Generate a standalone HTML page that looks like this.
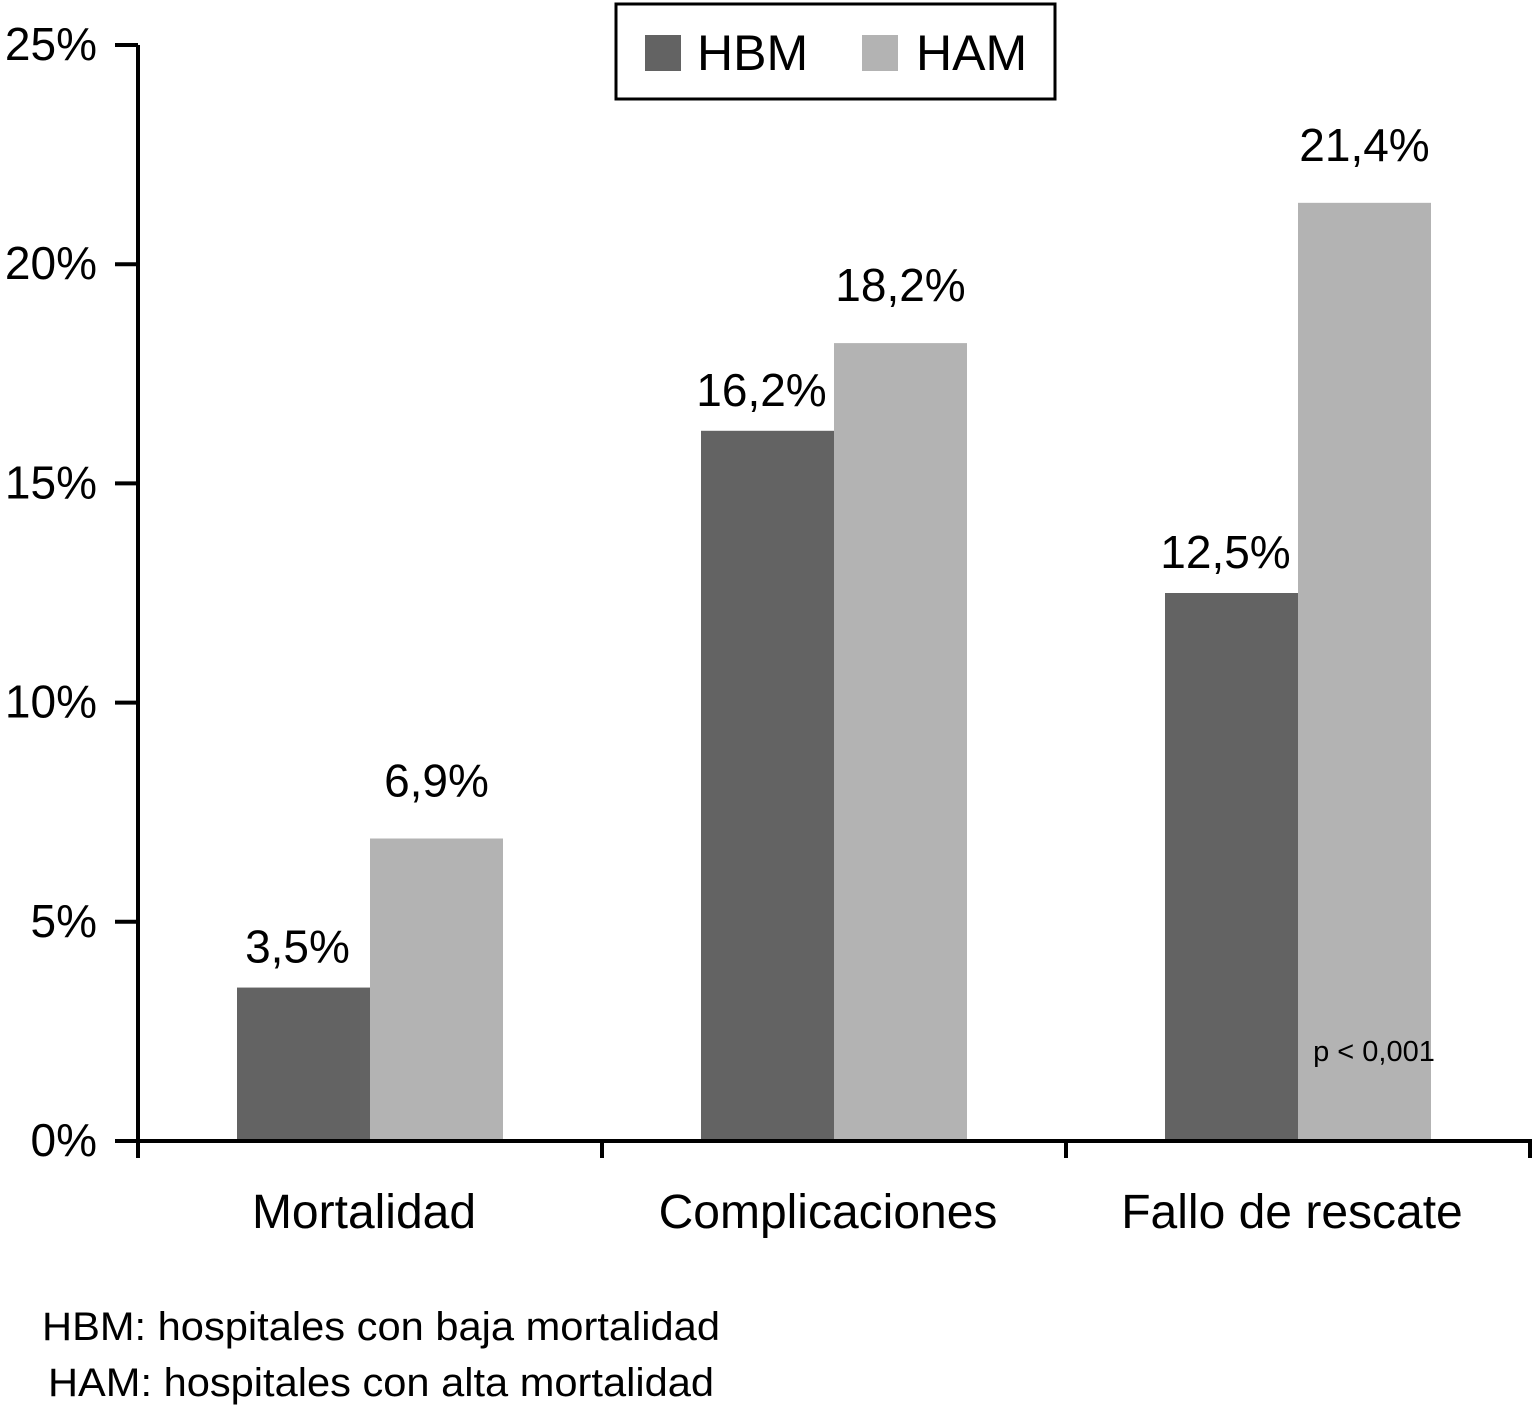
<!DOCTYPE html>
<html><head><meta charset="utf-8"><style>
body{margin:0;background:#fff;}
svg text{font-family:"Liberation Sans",Arial,sans-serif;fill:#000;}
</style></head><body>
<svg id="chart" width="1535" height="1417" viewBox="0 0 1535 1417"></svg>
<script>
const categories=["Mortalidad","Complicaciones","Fallo de rescate"];
const hbmValues=[3.5,16.2,12.5];
const hamValues=[6.9,18.2,21.4];
const valueLabelsHBM=["3,5%","16,2%","12,5%"];
const valueLabelsHAM=["6,9%","18,2%","21,4%"];
const yTicks=[0,5,10,15,20,25];
const yTickLabels=["0%","5%","10%","15%","20%","25%"];

const svg=document.getElementById('chart');
const NS='http://www.w3.org/2000/svg';
function mk(tag,attrs,parent){const e=document.createElementNS(NS,tag);for(const k in attrs)e.setAttribute(k,attrs[k]);(parent||svg).appendChild(e);return e;}
const x0=138,x1=1530,y0=1141,yTop=45;
const y=v=>y0-(v/25)*(y0-yTop);
const band=(x1-x0)/categories.length;
const cx=i=>x0+band*(i+0.5);
const bw=133;

categories.forEach((c,i)=>{
  const b1=mk('rect',{x:cx(i)-bw,y:y(hbmValues[i]),width:bw,height:y0-y(hbmValues[i]),fill:'#636363'});
  
  
  const b2=mk('rect',{x:cx(i),y:y(hamValues[i]),width:bw,height:y0-y(hamValues[i]),fill:'#b3b3b3'});
  
  
  const t1=mk('text',{x:cx(i)-bw/2-6,y:y(hbmValues[i])-25,'font-size':46,'text-anchor':'middle'});
  t1.textContent=valueLabelsHBM[i];
  
  
  const t2=mk('text',{x:cx(i)+bw/2,y:y(hamValues[i])-42,'font-size':46,'text-anchor':'middle'});
  t2.textContent=valueLabelsHAM[i];
  
  
  const cl=mk('text',{x:cx(i)-6,y:1228,'font-size':48,'text-anchor':'middle'});
  cl.textContent=c;
  
  
});
mk('line',{x1:x0,y1:yTop,x2:x0,y2:y0+2,stroke:'#000','stroke-width':4});
mk('line',{x1:x0-2,y1:y0,x2:x1+2,y2:y0,stroke:'#000','stroke-width':4});
yTicks.forEach((v,i)=>{
  mk('line',{x1:115,y1:y(v),x2:x0,y2:y(v),stroke:'#000','stroke-width':4});
  const t=mk('text',{x:97,y:y(v)+15,'font-size':46,'text-anchor':'end'});
  t.textContent=yTickLabels[i];
  
  
});
for(let i=0;i<=categories.length;i++){
  const xx=Math.min(x0+band*i,x1);
  mk('line',{x1:xx,y1:y0,x2:xx,y2:1158,stroke:'#000','stroke-width':4});
}
const p=mk('text',{x:1374,y:1061,'font-size':29,'text-anchor':'middle'});p.textContent='p < 0,001';

const lg=mk('g',{});

mk('rect',{x:616,y:4,width:439,height:95,fill:'#fff',stroke:'#000','stroke-width':3},lg);
mk('rect',{x:645,y:35,width:36,height:36,fill:'#636363'},lg);
const l1=mk('text',{x:697,y:70,'font-size':50},lg);l1.textContent='HBM';
mk('rect',{x:862,y:35,width:36,height:36,fill:'#b3b3b3'},lg);
const l2=mk('text',{x:916,y:70,'font-size':50},lg);l2.textContent='HAM';
const f1=mk('text',{x:42,y:1340,'font-size':40,textLength:678,lengthAdjust:'spacingAndGlyphs'});f1.textContent='HBM: hospitales con baja mortalidad';

const f2=mk('text',{x:48,y:1396,'font-size':40,textLength:666,lengthAdjust:'spacingAndGlyphs'});f2.textContent='HAM: hospitales con alta mortalidad';

</script>
</body></html>
